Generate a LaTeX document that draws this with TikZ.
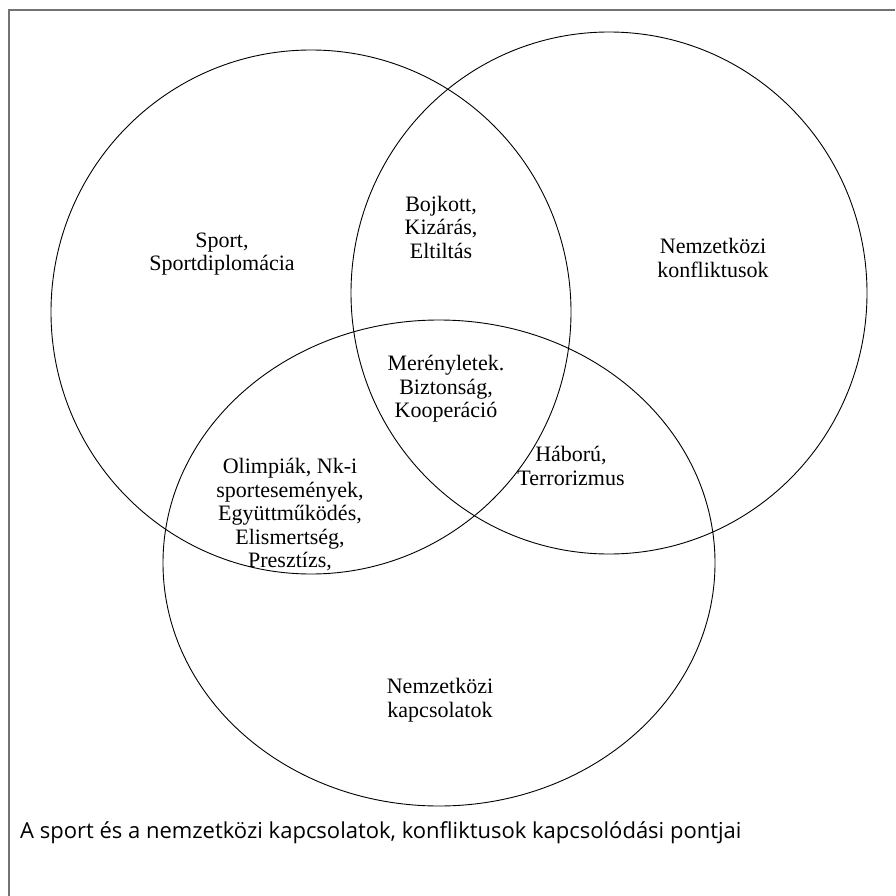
\documentclass[tikz,border=0pt]{standalone}
\usepackage{fontspec}
\setmainfont{Liberation Serif}
\newfontfamily\capfont{Open Sans}
\begin{document}
\begin{tikzpicture}[x=1pt,y=-1pt,
  ring/.style={draw=black,line width=0.9pt},
  lbl/.style={align=center,inner sep=0pt,font=\fontsize{22}{23.5}\selectfont},
  framel/.style={draw=black!55,line width=1.4pt}]
\useasboundingbox (0,0) rectangle (895,896);
% frame
\coordinate (fTL) at (9,10);
\coordinate (fTR) at (895,10);
\coordinate (fBL) at (9,896);
\draw[framel] (fTR) -- (fTL) -- (fBL);
% circles
\draw[ring] (311,312) ellipse [x radius=260, y radius=262];
\draw[ring] (609,293) ellipse [x radius=258, y radius=261];
\draw[ring] (439,563) ellipse [x radius=276, y radius=243];
% labels
\node[lbl] (sport) at (222,254) {Sport,\\Sportdiplomácia};
\node[lbl] (bojk) at (441,227) {Bojkott,\\Kizárás,\\Eltiltás};
\node[lbl] (konf) at (713,258) {Nemzetközi\\konfliktusok};
\node[lbl] (mer) at (446,389) {Merényletek.\\Biztonság,\\Kooperáció};
\node[lbl] (olimp) at (290,515) {Olimpiák, Nk-i\\sportesemények,\\Együttműködés,\\Elismertség,\\Presztízs,};
\node[lbl] (hab) at (571,466) {Háború,\\Terrorizmus};
\node[lbl] (kapcs) at (440,700) {Nemzetközi\\kapcsolatok};
\node[anchor=west,inner sep=0pt,font=\capfont\fontsize{22}{24}\selectfont] (cap) at (20,833) {A sport és a nemzetközi kapcsolatok, konfliktusok kapcsolódási pontjai};
\end{tikzpicture}
\end{document}
